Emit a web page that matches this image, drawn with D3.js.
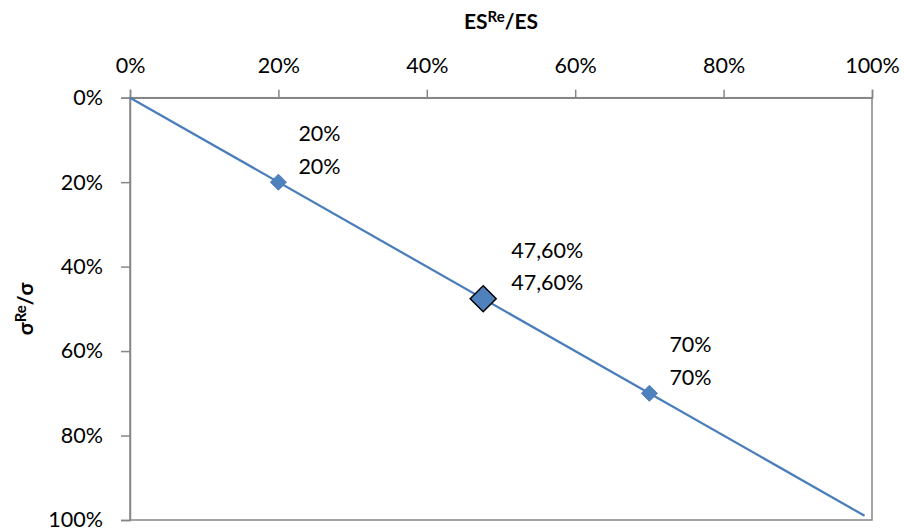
<!DOCTYPE html>
<html>
<head>
<meta charset="utf-8">
<script src="https://cdn.jsdelivr.net/npm/d3@7"></script>
<style>
  html, body { margin: 0; padding: 0; background: #fff; }
  svg { display: block; font-family: Lato, "Open Sans", sans-serif; }
</style>
</head>
<body>
<svg id="chart" width="904" height="532"></svg>
<script>
// Share of expected shortfall (x) against share of volatility (y)
const tickValues = [0, 0.2, 0.4, 0.6, 0.8, 1.0];
const lineX = [0, 0.99];
const lineY = [0, 0.99];
const pointX = [0.20, 0.476, 0.70];
const pointY = [0.20, 0.476, 0.70];
const pointLabels = ["20%", "47,60%", "70%"];
const highlighted = [false, true, false];

const svg = d3.select("#chart");
const margin = { left: 130, right: 32, top: 97.7, bottom: 12 };
const W = 904, H = 532;

const x = d3.scaleLinear().domain([0, 1]).range([margin.left, W - margin.right]);
const y = d3.scaleLinear().domain([0, 1]).range([margin.top, H - margin.bottom]);

const pct = d => Math.round(d * 100) + "%";
const axisColor = "#868686";

// plot frame
svg.append("rect")
  .attr("x", x(0)).attr("y", y(0))
  .attr("width", x(1) - x(0)).attr("height", y(1) - y(0))
  .attr("fill", "none").attr("stroke", axisColor).attr("stroke-width", 1.5);

// top x axis
const xAxis = svg.append("g")
  .attr("transform", `translate(0,${y(0)})`)
  .call(d3.axisTop(x).tickValues(tickValues).tickFormat(pct).tickSize(8).tickPadding(17));
// left y axis
const yAxis = svg.append("g")
  .attr("transform", `translate(${x(0)},0)`)
  .call(d3.axisLeft(y).tickValues(tickValues).tickFormat(pct).tickSize(9).tickPadding(18));

[xAxis, yAxis].forEach(g => {
  g.select(".domain").attr("stroke", axisColor).attr("stroke-width", 1.5);
  g.selectAll(".tick line").attr("stroke", axisColor).attr("stroke-width", 1.5);
  g.selectAll(".tick text")
    .attr("fill", "#000")
    .style("font-family", "Lato, 'Open Sans', sans-serif")
    .style("font-size", "21.5px");
});

// axis titles
const xt = svg.append("text")
  .attr("x", (x(0) + x(1)) / 2).attr("y", 29)
  .attr("text-anchor", "middle")
  .style("font-size", "21px").style("font-weight", "bold");
xt.append("tspan").text("ES");
xt.append("tspan").attr("dy", -7).style("font-size", "15px").text("Re");
xt.append("tspan").attr("dy", 7).text("/ES");

const yt = svg.append("text")
  .attr("transform", `translate(33,${(y(0) + y(1)) / 2}) rotate(-90)`)
  .attr("text-anchor", "middle")
  .style("font-size", "21px").style("font-weight", "bold");
yt.append("tspan").text("σ");
yt.append("tspan").attr("dy", -7).style("font-size", "15px").text("Re");
yt.append("tspan").attr("dy", 7).text("/σ");

// diagonal series line
const lineData = lineX.map((v, i) => [v, lineY[i]]);
svg.append("path")
  .datum(lineData)
  .attr("d", d3.line().x(d => x(d[0])).y(d => y(d[1])))
  .attr("fill", "none").attr("stroke", "#4A7EBB").attr("stroke-width", 2.25);

// diamond markers
const pts = pointX.map((v, i) => ({ x: v, y: pointY[i], label: pointLabels[i], big: highlighted[i] }));
const diamond = r => `M0,${-r}L${r},0L0,${r}L${-r},0Z`;

svg.selectAll("path.marker")
  .data(pts)
  .join("path")
  .attr("class", "marker")
  .attr("transform", d => `translate(${x(d.x)},${y(d.y)})`)
  .attr("d", d => diamond(d.big ? 13 : 8))
  .attr("fill", "#4F81BD")
  .attr("stroke", d => d.big ? "#000" : "#4A7EBB")
  .attr("stroke-width", d => d.big ? 1.5 : 1);

// data labels (x value over y value)
const lbl = svg.selectAll("text.dlabel")
  .data(pts)
  .join("text")
  .attr("class", "dlabel")
  .attr("x", d => x(d.x) + (d.big ? 28 : 20))
  .attr("y", d => y(d.y) - 41)
  .style("font-size", "21.5px");
lbl.append("tspan").text(d => d.label);
lbl.append("tspan")
  .attr("x", d => x(d.x) + (d.big ? 28 : 20))
  .attr("dy", 32.5)
  .text(d => d.label);
</script>
</body>
</html>
